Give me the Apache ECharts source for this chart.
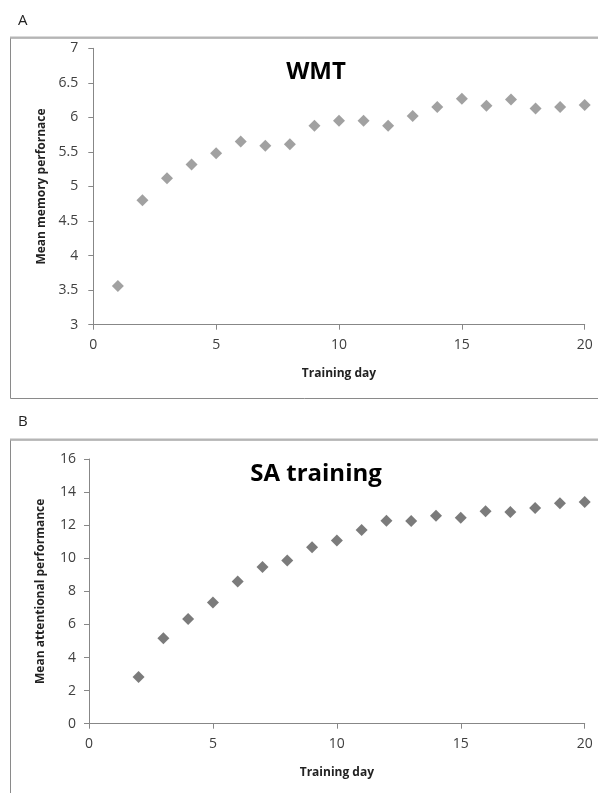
<!DOCTYPE html>
<html>
<head>
<meta charset="utf-8">
<script src="https://cdn.jsdelivr.net/npm/echarts@6/dist/echarts.min.js"></script>
<style>
html,body{margin:0;padding:0;background:#fff;}
#c{width:598px;height:793px;}
</style>
</head>
<body>
<div id="c"></div>
<script>
const days = [1,2,3,4,5,6,7,8,9,10,11,12,13,14,15,16,17,18,19,20];
const wmtValues = [3.56,4.80,5.12,5.32,5.48,5.65,5.59,5.61,5.88,5.95,5.95,5.88,6.02,6.15,6.27,6.17,6.26,6.13,6.15,6.18];
const saDays = [2,3,4,5,6,7,8,9,10,11,12,13,14,15,16,17,18,19,20];
const saValues = [2.82,5.16,6.33,7.33,8.60,9.47,9.87,10.66,11.08,11.71,12.27,12.25,12.57,12.45,12.84,12.80,13.04,13.32,13.40];
const xTicks = [0,5,10,15,20];
const wmtYTicks = [3,3.5,4,4.5,5,5.5,6,6.5,7];
const saYTicks = [0,2,4,6,8,10,12,14,16];

const FONT = '"Open Sans", "Liberation Sans", sans-serif';
const axisGray = '#878787';

function xAxis(gridIndex){
  return {
    type:'value', gridIndex, min:xTicks[0], max:xTicks[xTicks.length-1], interval:5,
    name:'Training day', nameLocation:'middle', nameGap:43,
    nameTextStyle:{fontFamily:FONT, fontWeight:'bold', fontSize:12, color:'#222'},
    axisLine:{show:true, onZero:false, lineStyle:{color:axisGray, width:1}},
    axisTick:{show:true, length:5, inside:false, lineStyle:{color:axisGray}},
    axisLabel:{fontFamily:FONT, fontSize:14, color:'#404040', margin:13},
    splitLine:{show:false}
  };
}
function yAxis(gridIndex, min, max, interval, name, gap, margin){
  return {
    type:'value', gridIndex, min, max, interval,
    name, nameLocation:'middle', nameGap:gap, nameRotate:90,
    nameTextStyle:{fontFamily:FONT, fontWeight:'bold', fontSize:12, color:'#222'},
    axisLine:{show:true, onZero:false, lineStyle:{color:axisGray, width:1}},
    axisTick:{show:true, length:5, inside:false, lineStyle:{color:axisGray}},
    axisLabel:{fontFamily:FONT, fontSize:14, color:'#404040', margin},
    splitLine:{show:false}
  };
}

const chart = echarts.init(document.getElementById('c'), null, {renderer:'canvas'});
chart.setOption({
  animation:false,
  backgroundColor:'#fff',
  graphic:[
    {type:'text', left:18, top:13, style:{text:'A', fontFamily:FONT, fontSize:15, fill:'#222'}},
    {type:'rect', shape:{x:10.5, y:38, width:600, height:360.5}, style:{fill:'none', stroke:'#8a8a8a', lineWidth:1}},
    {type:'line', shape:{x1:10, y1:37.5, x2:598, y2:37.5}, style:{stroke:'#b5b5b5', lineWidth:2}},
    {type:'text', left:18, top:414, style:{text:'B', fontFamily:FONT, fontSize:15, fill:'#222'}},
    {type:'rect', shape:{x:10.5, y:440, width:600, height:400}, style:{fill:'none', stroke:'#8a8a8a', lineWidth:1}},
    {type:'line', shape:{x1:10, y1:439.5, x2:598, y2:439.5}, style:{stroke:'#b5b5b5', lineWidth:2}}
  ],
  title:[
    {text:'WMT', left:311, top:55, textAlign:'center',
     textStyle:{fontFamily:FONT, fontWeight:'bold', fontSize:24, color:'#000'}},
    {text:'SA training', left:311, top:457, textAlign:'center',
     textStyle:{fontFamily:FONT, fontWeight:'bold', fontSize:24, color:'#000'}}
  ],
  grid:[
    {left:93.3, width:491.4, top:48.3, height:276.4},
    {left:89, width:495.7, top:459, height:264.7}
  ],
  xAxis:[xAxis(0), xAxis(1)],
  yAxis:[
    yAxis(0, wmtYTicks[0], wmtYTicks[wmtYTicks.length-1], 0.5, 'Mean memory perfornace', 46, 15),
    yAxis(1, saYTicks[0], saYTicks[saYTicks.length-1], 2, 'Mean attentional performance', 42, 13)
  ],
  series:[
    {type:'scatter', xAxisIndex:0, yAxisIndex:0, symbol:'diamond', symbolSize:12,
     itemStyle:{color:'#8a8a8a'}, data: days.map((d,i)=>[d, wmtValues[i]])},
    {type:'scatter', xAxisIndex:1, yAxisIndex:1, symbol:'diamond', symbolSize:12,
     itemStyle:{color:'#5a5a5a'}, data: saDays.map((d,i)=>[d, saValues[i]])}
  ]
});
</script>
</body>
</html>
